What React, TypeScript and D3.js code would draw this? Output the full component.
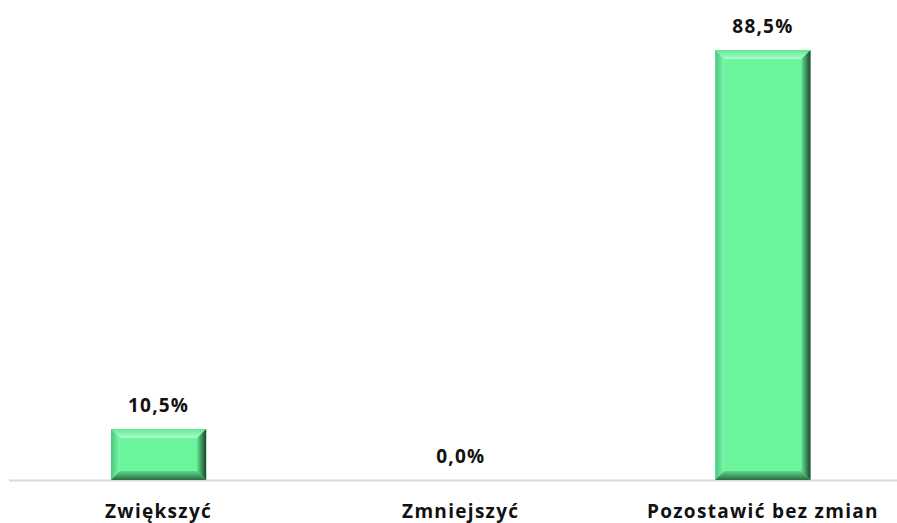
import React from "react";
import * as d3 from "d3";

const categories = ["Zwiększyć", "Zmniejszyć", "Pozostawić bez zmian"];
const values = [10.5, 0.0, 88.5];
const valueLabels = ["10,5%", "0,0%", "88,5%"];

const W = 897;
const H = 523;
const baseY = 480;
const topY = 50;
const B = 9;

export default function App() {
  const x = d3.scaleBand<string>().domain(categories).range([7.5, 914]).padding(0);
  const y = d3.scaleLinear().domain([0, d3.max(values) as number]).range([baseY, topY]);
  const bw = x.bandwidth() * 0.315;
  const font = "'Open Sans', 'DejaVu Sans', sans-serif";

  return (
    <svg width={W} height={H} style={{ position: "absolute", left: 0, top: 0, background: "#fff" }}>
      <defs>
        <linearGradient id="gL" x1="0" x2="1" y1="0" y2="0">
          <stop offset="0" stopColor="#46c97f" />
          <stop offset="1" stopColor="#7ef8aa" />
        </linearGradient>
        <linearGradient id="gT" x1="0" x2="0" y1="0" y2="1">
          <stop offset="0" stopColor="#62e893" />
          <stop offset="1" stopColor="#a8ffcb" />
        </linearGradient>
        <linearGradient id="gR" x1="0" x2="1" y1="0" y2="0">
          <stop offset="0" stopColor="#5ee08f" />
          <stop offset="1" stopColor="#1d4429" />
        </linearGradient>
        <linearGradient id="gB" x1="0" x2="0" y1="0" y2="1">
          <stop offset="0" stopColor="#5cd88b" />
          <stop offset="1" stopColor="#2b6a42" />
        </linearGradient>
      </defs>
      <line x1={9} x2={W} y1={baseY + 0.5} y2={baseY + 0.5} stroke="#d9d9d9" strokeWidth={2} />
      {categories.map((c, i) => {
        const cx = (x(c) as number) + x.bandwidth() / 2;
        const x0 = cx - bw / 2;
        const x1 = cx + bw / 2;
        const y0 = y(values[i]);
        const y1 = y(0);
        const h = y1 - y0;
        const b = Math.min(B, h / 2, bw / 2);
        return (
          <g key={c}>
            {h > 0 && (
              <g>
                <rect x={x0} y={y0} width={bw} height={h} fill="#6cf59c" />
                <polygon points={`${x0},${y0} ${x1},${y0} ${x1 - b},${y0 + b} ${x0 + b},${y0 + b}`} fill="url(#gT)" />
                <polygon points={`${x0},${y0} ${x0 + b},${y0 + b} ${x0 + b},${y1 - b} ${x0},${y1}`} fill="url(#gL)" />
                <polygon points={`${x1},${y0} ${x1},${y1} ${x1 - b},${y1 - b} ${x1 - b},${y0 + b}`} fill="url(#gR)" />
                <polygon points={`${x0},${y1} ${x0 + b},${y1 - b} ${x1 - b},${y1 - b} ${x1},${y1}`} fill="url(#gB)" />
              </g>
            )}
            <text x={cx} y={y0 - 17} textAnchor="middle" fontFamily={font} fontWeight="bold" fontSize={19} letterSpacing={1.2} fill="#111">
              {valueLabels[i]}
            </text>
            <text x={cx} y={518} textAnchor="middle" fontFamily={font} fontWeight="bold" fontSize={19} letterSpacing={1.3} fill="#111">
              {c}
            </text>
          </g>
        );
      })}
    </svg>
  );
}
